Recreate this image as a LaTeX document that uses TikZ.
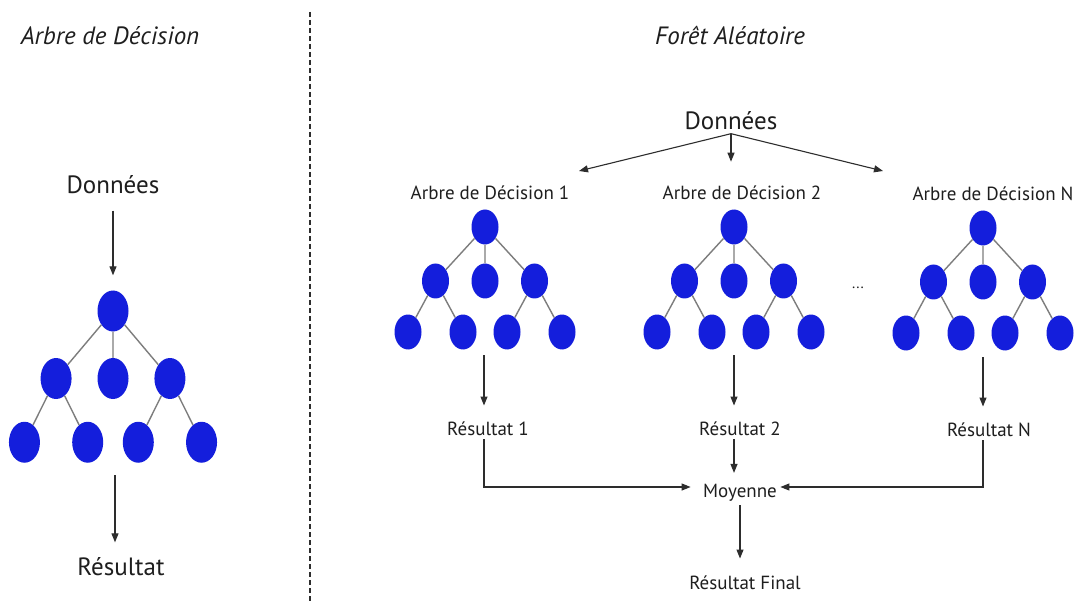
\documentclass[tikz,border=0pt]{standalone}
\usepackage{fontspec}
\setmainfont{PT Sans}
\usepackage{tikz}
\usetikzlibrary{positioning, arrows.meta, shapes.geometric, calc}
\definecolor{NodeColor}{RGB}{20,30,220}
\definecolor{TextColor}{RGB}{30,30,30}
\definecolor{ArrowColor}{RGB}{45,45,45}
\definecolor{BranchColor}{RGB}{125,125,125}
\tikzstyle{arrow} = [line width=1.1pt, ArrowColor, ->, >={Triangle[length=9pt,width=7pt]}]
\tikzstyle{branch} = [line width=1.4pt, BranchColor]
\tikzstyle{separator} = [line width=1.2pt, ArrowColor, dash pattern=on 5pt off 3pt]
\tikzstyle{leaf} = [ellipse, minimum width=27pt, minimum height=35pt, fill=NodeColor, inner sep=0pt]
\tikzstyle{bigleaf} = [leaf, minimum width=31pt, minimum height=41pt]
\tikzstyle{title} = [font=\fontsize{25}{30}\selectfont\itshape, TextColor]
\tikzstyle{bigtext} = [font=\fontsize{25}{30}\selectfont, TextColor]
\tikzstyle{smalltext} = [font=\fontsize{19}{23}\selectfont, TextColor]
% one decision tree: #1 = name prefix, #2 = leaf style
\newcommand{\arbre}[2]{%
  \node[#2] (#1r) at (0,0) {};
  \node[#2] (#1g) at (-49.5,54) {};
  \node[#2] (#1m) at (0,54) {};
  \node[#2] (#1d) at (49.5,54) {};
  \node[#2] (#1a) at (-77,105) {};
  \node[#2] (#1b) at (-22,105) {};
  \node[#2] (#1c) at (22,105) {};
  \node[#2] (#1e) at (77,105) {};
  \draw[branch] (#1r) -- (#1g) (#1r) -- (#1m) (#1r) -- (#1d)
    (#1g) -- (#1a) (#1g) -- (#1b) (#1d) -- (#1c) (#1d) -- (#1e);
}

\begin{document}
\begin{tikzpicture}[x=1pt, y=-1pt]
    \useasboundingbox[fill=white] (0,0) rectangle (1075,601);
    % Titles and separator
    \node[title] (titreA) at (110,36) {Arbre de Décision};
    \node[title] (titreF) at (730,36) {Forêt Aléatoire};
    \draw[separator] (310,12) -- (310,601);

    % Single decision tree
    \node[bigtext] (donneesA) at (113,185) {Données};
    \begin{scope}[shift={(113,311)}, xscale=1.15, yscale=1.25]
        \arbre{g}{bigleaf}
    \end{scope}
    \coordinate (sortieA) at (115,475);
    \node[bigtext] (resultatA) at (121,567) {Résultat};
    \draw[arrow, shorten <=13pt, shorten >=15pt] (donneesA) -- (gr);
    \draw[arrow, shorten >=12pt] (sortieA) -- (sortieA |- resultatA.north);

    % Random forest
    \node[bigtext] (donneesF) at (731,121) {Données};
    \coordinate (vers1) at (579,171);
    \coordinate (vers2) at ($(donneesF.south)+(0,28)$);
    \coordinate (versN) at (883,171);
    \draw[arrow] (donneesF.south) -- (vers1);
    \draw[arrow] (donneesF.south) -- (vers2);
    \draw[arrow] (donneesF.south) -- (versN);

    \node[smalltext] (arbre1) at (490,193) {Arbre de Décision 1};
    \node[smalltext] (arbre2) at (742,193) {Arbre de Décision 2};
    \node[smalltext] (arbreN) at (993,194) {Arbre de Décision N};
    \begin{scope}[shift={(485,227)}]
        \arbre{u}{leaf}
    \end{scope}
    \begin{scope}[shift={(734,227)}]
        \arbre{v}{leaf}
    \end{scope}
    \begin{scope}[shift={(983,228)}]
        \arbre{w}{leaf}
    \end{scope}
    \node[font=\fontsize{15}{15}\selectfont, TextColor] (points) at (858,288) {...};

    \coordinate (sortie1) at (484,355);
    \coordinate (sortie2) at (734,355);
    \coordinate (sortieN) at (983,357);
    \node[smalltext] (res1) at (488,429) {Résultat 1};
    \node[smalltext] (res2) at (740,429) {Résultat 2};
    \node[smalltext] (resN) at (989,430) {Résultat N};
    \draw[arrow, shorten >=13pt] (sortie1) -- (sortie1 |- res1.north);
    \draw[arrow, shorten >=13pt] (sortie2) -- (sortie2 |- res2.north);
    \draw[arrow, shorten >=13pt] (sortieN) -- (sortieN |- resN.north);

    \node[smalltext] (moyenne) at (740,493) {Moyenne};
    \node[smalltext] (final) at (745,583) {Résultat Final};
    \draw[arrow, shorten >=8pt] (sortie2 |- res2.south) -- (sortie2 |- moyenne.north);
    \draw[arrow, shorten >=9pt] (sortie1 |- res1.south) |- ([yshift=6pt]moyenne.west);
    \draw[arrow] (sortieN |- resN.south) |- ([yshift=6pt]moyenne.east);
    \draw[arrow, shorten >=14pt] (moyenne) -- (moyenne |- final.north);
\end{tikzpicture}
\end{document}
